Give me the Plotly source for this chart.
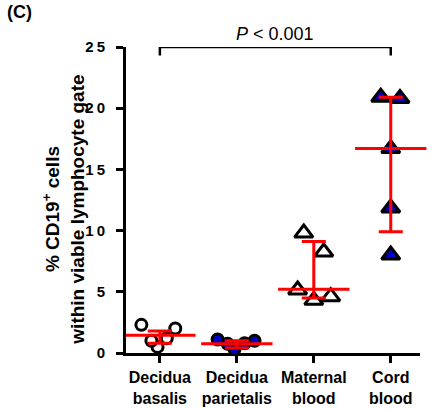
import plotly.graph_objects as go

categories = ["Decidua<br>basalis", "Decidua<br>parietalis", "Maternal<br>blood", "Cord<br>blood"]
cat_pos = [0, 1, 2, 3]

basalis_y = [2.3, 2.0, 1.2, 0.5, 1.0]
basalis_dx = [-0.24, 0.20, 0.09, -0.03, -0.11]
parietalis_y = [1.1, 1.0, 0.3, 0.75, 0.8]
parietalis_dx = [-0.25, 0.23, -0.03, -0.12, 0.10]
maternal_y = [9.8, 8.25, 5.15, 4.3, 4.6]
maternal_dx = [-0.13, 0.13, -0.21, 0.0, 0.22]
cord_y = [20.9, 20.8, 16.7, 11.85, 8.0]
cord_dx = [-0.13, 0.12, 0.0, 0.0, 0.0]

medians = [1.45, 0.75, 5.2, 16.7]
q1 = [0.8, 0.4, 4.5, 9.9]
q3 = [1.8, 1.0, 9.1, 20.9]

y_ticks = [0, 5, 10, 15, 20, 25]
y_title = "<b>% CD19<sup>+</sup> cells</b><br><b>within viable lymphocyte gate</b>"

FONT = "Liberation Sans, Arial, sans-serif"
BLUE = "#0000CC"

groups = [
    (basalis_y, basalis_dx, "circle", "white", 11),
    (parietalis_y, parietalis_dx, "circle", BLUE, 11),
    (maternal_y, maternal_dx, "triangle-up", "white", 16),
    (cord_y, cord_dx, "triangle-up", BLUE, 16),
]

fig = go.Figure()
for i, (ys, dxs, sym, fill, sz) in enumerate(groups):
    fig.add_trace(go.Scatter(
        x=[cat_pos[i] + d for d in dxs], y=ys, mode="markers",
        marker=dict(symbol=sym, size=sz, color=fill, line=dict(color="black", width=3)),
        showlegend=False, cliponaxis=False, hoverinfo="skip"))

# median with interquartile range
fig.add_trace(go.Scatter(
    x=cat_pos, y=medians, mode="markers",
    marker=dict(symbol="line-ew", size=51, color="red", line=dict(color="red", width=3)),
    error_y=dict(type="data", symmetric=False,
                 array=[b - m for b, m in zip(q3, medians)],
                 arrayminus=[m - a for a, m in zip(q1, medians)],
                 color="red", thickness=3, width=12),
    showlegend=False, cliponaxis=False, hoverinfo="skip"))

# significance bracket
fig.add_trace(go.Scatter(
    x=[cat_pos[0], cat_pos[0], cat_pos[3], cat_pos[3]], y=[24.3, 25.0, 25.0, 24.3],
    mode="lines", line=dict(color="black", width=2.5),
    showlegend=False, cliponaxis=False, hoverinfo="skip"))
fig.add_annotation(x=(cat_pos[0] + cat_pos[3]) / 2, y=25.0, yanchor="bottom", yshift=1,
                   text="<i>P</i> < 0.001", showarrow=False,
                   font=dict(family=FONT, size=18, color="black"))

fig.add_annotation(xref="paper", yref="paper", x=-0.41, y=1.155, xanchor="left", yanchor="top",
                   text="<b>(C)</b>", showarrow=False,
                   font=dict(family=FONT, size=18, color="black"))

fig.add_annotation(xref="paper", yref="paper", x=-0.226, xshift=4, y=0.467,
                   xanchor="center", yanchor="middle",
                   text=y_title, textangle=-90, showarrow=False, align="center",
                   font=dict(family=FONT, size=19, color="black"))

fig.update_layout(
    width=429, height=409,
    margin=dict(l=126, r=9, t=47, b=56),
    plot_bgcolor="white", paper_bgcolor="white",
    font=dict(family=FONT, color="black"),
    xaxis=dict(range=[-0.44, 3.38], tickvals=cat_pos, automargin=False,
               ticktext=["<b>" + c.replace("<br>", "</b><br><b>") + "</b>" for c in categories],
               showline=True, linecolor="black", linewidth=3,
               ticks="outside", ticklen=7, tickwidth=3, tickcolor="black",
               ticklabelstandoff=1,
               showgrid=False, zeroline=False,
               tickfont=dict(family=FONT, size=16, color="black")),
    yaxis=dict(range=[0, 25], tickvals=y_ticks, automargin=False,
               ticktext=["<b>" + "\u2009".join(str(t)) + "</b>" for t in y_ticks],
               showline=True, linecolor="black", linewidth=3,
               ticks="outside", ticklen=7, tickwidth=2.5, tickcolor="black",
               ticklabelstandoff=8,
               showgrid=False, zeroline=False,
               tickfont=dict(family=FONT, size=15, color="black")),
)

fig.write_html("out.html", config={"displayModeBar": False},
               post_script="document.body.style.margin='0px';")
